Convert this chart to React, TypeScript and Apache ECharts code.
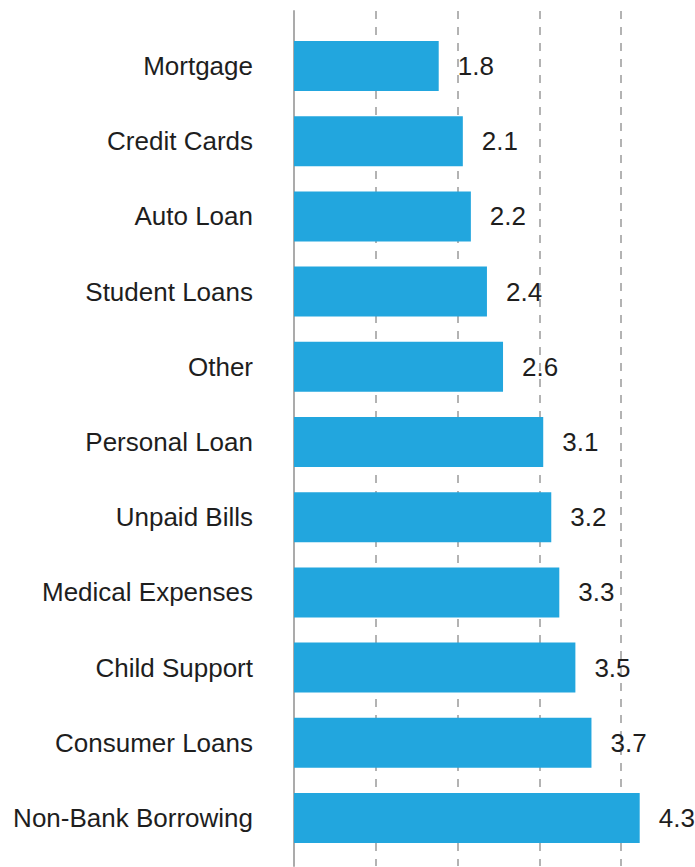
import React, { useEffect, useRef } from "react";
import * as echarts from "echarts";

const categories = [
  "Mortgage",
  "Credit Cards",
  "Auto Loan",
  "Student Loans",
  "Other",
  "Personal Loan",
  "Unpaid Bills",
  "Medical Expenses",
  "Child Support",
  "Consumer Loans",
  "Non-Bank Borrowing",
];
const values = [1.8, 2.1, 2.2, 2.4, 2.6, 3.1, 3.2, 3.3, 3.5, 3.7, 4.3];
const gridTicks = [0, 1, 2, 3, 4];

const FONT = "'Liberation Sans', Arial, Helvetica, sans-serif";

export default function App() {
  const ref = useRef<HTMLDivElement>(null);
  useEffect(() => {
    document.body.style.margin = "0";
    if (!ref.current) return;
    const chart = echarts.init(ref.current, undefined, { renderer: "svg" });
    chart.setOption({
      animation: false,
      backgroundColor: "#ffffff",
      grid: [
        { left: 294, top: 28.4, height: 827.2, width: 385.9, containLabel: false },
        { left: 294, top: 11, height: 855, width: 327, containLabel: false },
      ],
      xAxis: [
        {
          gridIndex: 0,
          type: "value",
          min: 0,
          max: 4.8,
          show: false,
        },
        {
          gridIndex: 1,
          type: "value",
          min: gridTicks[0],
          max: gridTicks[gridTicks.length - 1],
          interval: 1,
          axisLine: { show: false },
          axisTick: { show: false },
          axisLabel: { show: false },
          splitLine: {
            show: true,
            lineStyle: { color: "#b3b3b3", width: 2, type: [8, 8] },
          },
        },
      ],
      yAxis: [
        {
          gridIndex: 0,
          type: "category",
          data: categories,
          inverse: true,
          axisLine: { show: false },
          axisTick: { show: false },
          splitLine: { show: false },
          axisLabel: {
            margin: 41,
            fontSize: 26,
            color: "#1e1e1e",
            fontFamily: FONT,
          },
        },
        {
          gridIndex: 1,
          type: "value",
          min: 0,
          max: 1,
          z: 1,
          axisLine: { show: true, lineStyle: { color: "#ababab", width: 2 } },
          axisTick: { show: false },
          axisLabel: { show: false },
          splitLine: { show: false },
        },
      ],
      series: [
        {
          type: "bar",
          xAxisIndex: 0,
          yAxisIndex: 0,
          data: values,
          barWidth: 50,
          z: 3,
          itemStyle: { color: "#22a6de" },
          label: {
            show: true,
            position: "right",
            distance: 19,
            fontSize: 26,
            color: "#1e1e1e",
            fontFamily: FONT,
          },
        },
      ],
    });
    return () => chart.dispose();
  }, []);
  return <div ref={ref} style={{ width: 695, height: 867 }} />;
}
